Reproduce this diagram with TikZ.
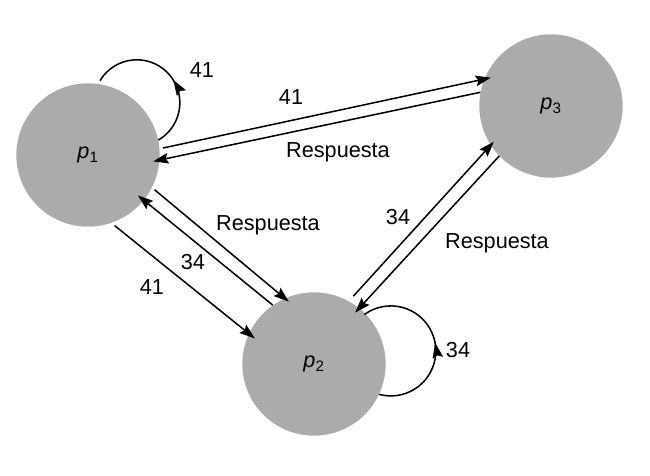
\documentclass[tikz,border=0pt]{standalone}
\usepackage{fontspec}
\setmainfont{Liberation Sans}
\usetikzlibrary{arrows.meta,decorations.markings,positioning}
\definecolor{procgray}{rgb}{0.67,0.67,0.67}

\begin{document}
\begin{tikzpicture}[x=0.3mm,y=-0.3mm,
  proc/.style={circle,fill=procgray,minimum size=43mm,inner sep=0pt,font=\fontsize{18.5}{22}\selectfont},
  msg/.style={line width=1.3pt,-{Stealth[length=13pt,width=9pt,inset=2pt]}},
  lbl/.style={font=\fontsize{18.5}{22}\selectfont,inner sep=0pt},
  selfmsg/.style={line width=1.3pt,postaction={decorate},
    decoration={markings,mark=at position #1 with {\arrow{Stealth[length=13pt,width=9pt,inset=2pt]}}}}]
\useasboundingbox (0,0) rectangle (650,476);
\draw (88,155) node (p1) [proc] {\textit{p}\textsubscript{1}};
\draw (314,364) node (p2) [proc] {\textit{p}\textsubscript{2}};
\draw (551,106) node (p3) [proc] {\textit{p}\textsubscript{3}};
% p1 <-> p3
\draw[msg, shorten <=1mm, shorten >=-2mm] (p1.5)--(p3.158);
\draw[msg, shorten >=-2mm] (p3.169)--(p1.-4);
% p1 <-> p2
\draw[msg, shorten <=1mm, shorten >=-1.6mm] (p1.-27)--(p2.114);
\draw[msg, shorten >=-2.3mm] (p2.125)--(p1.-39);
\draw[msg, shorten <=1.2mm, shorten >=-2.3mm] (p1.-71)--(p2.155);
% p2 <-> p3
\draw[msg, shorten <=2mm, shorten >=-1.4mm] (p2.61)--(p3.213);
\draw[msg, shorten >=-1.8mm] (p3.224)--(p2.51);
% own messages
\draw[selfmsg=0.44] (p1.12) arc[start angle=-60,end angle=149,radius=12.9mm];
\draw[selfmsg=0.5] (p2.-25) arc[start angle=-105,end angle=126,radius=13.5mm];
% labels
\node[lbl] (t13) at (291,97) {41};
\node[lbl] (r31) at (338,152) {Respuesta};
\node[lbl] (r12) at (268,225) {Respuesta};
\node[lbl] (t21) at (193,262) {34};
\node[lbl] (t12) at (152,287) {41};
\node[lbl] (t23) at (398,217) {34};
\node[lbl] (r32) at (497,243) {Respuesta};
\node[lbl] (t11) at (202,70) {41};
\node[lbl] (t22) at (458,350) {34};
\end{tikzpicture}
\end{document}
